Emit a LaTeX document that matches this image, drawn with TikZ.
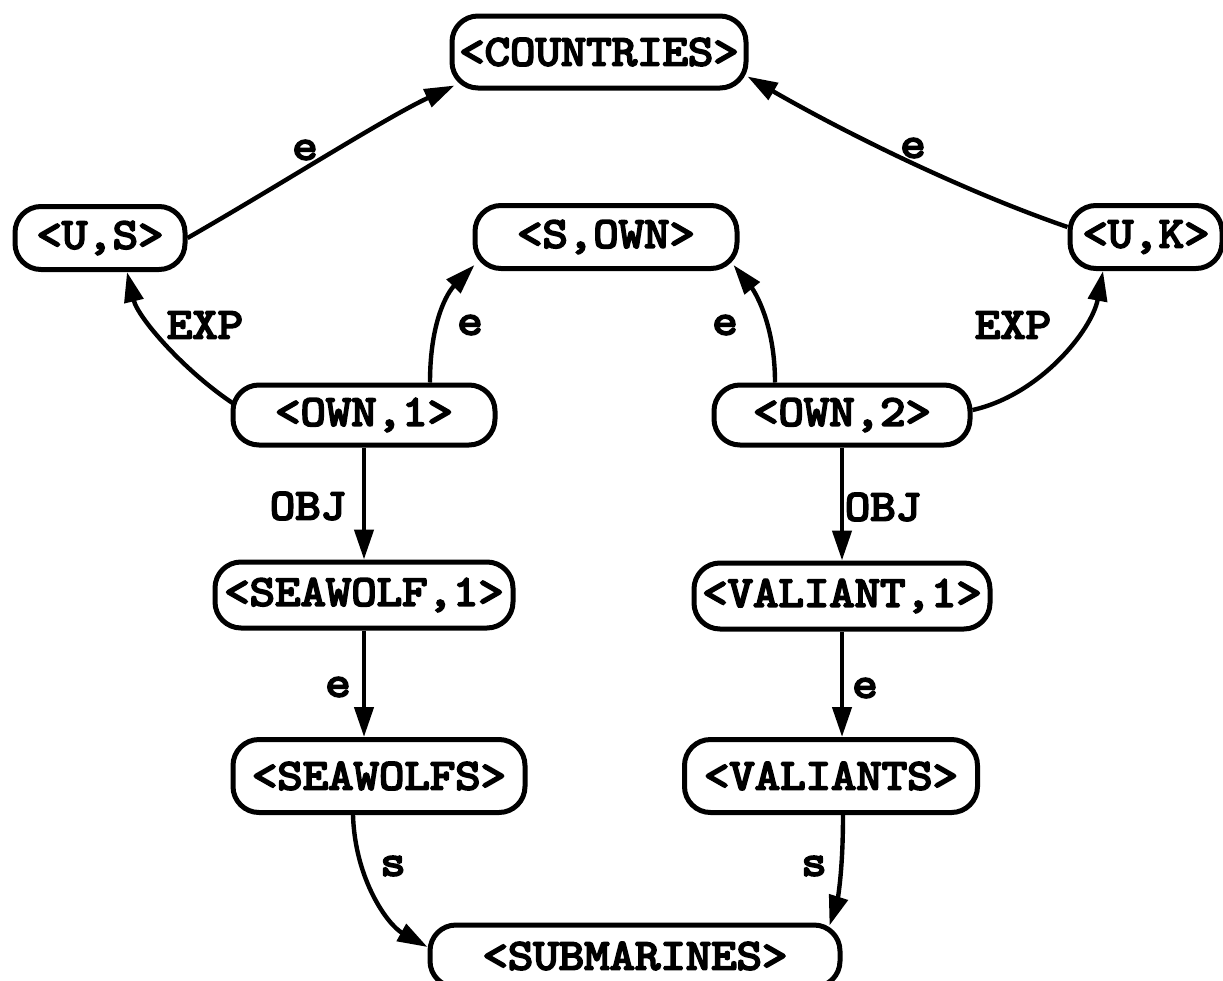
\documentclass[tikz,border=0pt]{standalone}
\usepackage{fontspec}
\newfontfamily\typefont{lmmono10-regular.otf}[FakeBold=4.5,FakeStretch=1.1]
\usetikzlibrary{arrows.meta,calc}
\begin{document}
\begin{tikzpicture}[x=1pt,y=-1pt,
  lab/.style={font=\typefont\fontsize{44}{44}\selectfont, inner sep=0pt},
  concept/.style={lab, draw, line width=5pt, rounded corners=26pt,
    minimum height=63pt, fill=white},
  link/.style={line width=4.4pt, -{Triangle[length=30pt,width=19pt]}},
]
\clip (0,0) rectangle (1223,980);
\fill[white] (0,0) rectangle (1223,980);

% concept nodes
\node[concept, minimum width=294pt, minimum height=72pt] (countries) at (599,52) {<COUNTRIES>};
\node[concept, minimum width=170pt] (us)   at (100,238) {<U,S>};
\node[concept, minimum width=262pt] (sown) at (606,237) {<S,OWN>};
\node[concept, minimum width=152pt] (uk)   at (1146,237) {<U,K>};
\node[concept, minimum width=262pt, minimum height=60pt] (own1) at (364,415) {<OWN,1>};
\node[concept, minimum width=256pt, minimum height=60pt] (own2) at (842,415) {<OWN,2>};
\node[concept, minimum width=298pt, minimum height=66pt] (sea1) at (364,595) {<SEAWOLF,1>};
\node[concept, minimum width=296pt, minimum height=66pt] (val1) at (842,596) {<VALIANT,1>};
\node[concept, minimum width=292pt, minimum height=73pt] (seas) at (379,776) {<SEAWOLFS>};
\node[concept, minimum width=293pt, minimum height=73pt] (vals) at (831,776) {<VALIANTS>};
\node[concept, minimum width=410pt, minimum height=62pt] (subs) at (635,956) {<SUBMARINES>};

% connectors
\draw[link] (us.east) .. controls (280,185) and (385,118) .. ($(countries.south west)+(5,-5)$);
\draw[link] ($(uk.west)+(0,-10)$) .. controls (960,190) and (840,130) .. ($(countries.south east)+(-1,-14)$);
\draw[link] ($(own1.west)+(5,-10)$) .. controls (185,372) and (138,318) .. ($(us.south)+(27,0)$);
\draw[link] ($(own1.north)+(66,0)$) .. controls (430,320) and (448,292) .. ($(sown.south west)+(2,-6)$);
\draw[link] ($(own2.north)+(-67,0)$) .. controls (775,320) and (752,288) .. ($(sown.south east)+(-6,-6)$);
\draw[link] ($(own2.east)+(0,-5)$) .. controls (1040,395) and (1092,330) .. ($(uk.south)+(-43,0)$);
\draw[link] (own1.south) -- (sea1.north);
\draw[link] (own2.south) -- (val1.north);
\draw[link] (sea1.south) -- (sea1.south |- seas.north);
\draw[link] (val1.south) -- (val1.south |- vals.north);
\draw[link] ($(seas.south)+(-26,0)$) .. controls (355,880) and (388,925) .. ($(subs.west)+(0,-9)$);
\draw[link] ($(vals.south)+(12,0)$) .. controls (843,880) and (836,905) .. ($(subs.north east)+(-13,3)$);

% connector labels
\node[lab] (l1)  at (305,150) {e};
\node[lab] (l2)  at (913,148) {e};
\node[lab] (l3)  at (205,325) {EXP};
\node[lab] (l4)  at (470,325) {e};
\node[lab] (l5)  at (725,325) {e};
\node[lab] (l6)  at (1013,325) {EXP};
\node[lab] (l7)  at (308,506) {OBJ};
\node[lab] (l8)  at (883,507) {OBJ};
\node[lab] (l9)  at (338,687) {e};
\node[lab] (l10) at (865,688) {e};
\node[lab] (l11) at (393,866) {s};
\node[lab] (l12) at (814,866) {s};
\end{tikzpicture}
\end{document}
